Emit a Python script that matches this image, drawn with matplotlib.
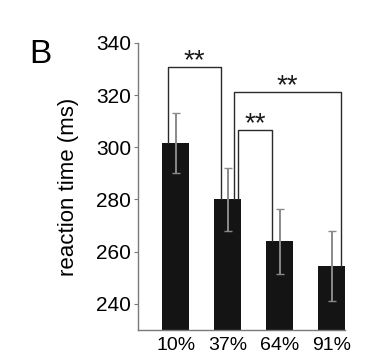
#!/usr/bin/env python3
import matplotlib
matplotlib.use("Agg")
import matplotlib.pyplot as plt

# --- data ---
categories = ["10%", "37%", "64%", "91%"]
rt_mean = [301.7, 280.0, 264.0, 254.6]
rt_err = [11.5, 12.0, 12.5, 13.5]

# significance brackets: (bar a, bar b, offset a, offset b, height, label)
brackets = [
    (0, 1, -0.15, -0.14, 330.7, "**"),
    (1, 3, 0.12, 0.17, 321.0, "**"),
    (1, 2, 0.19, -0.15, 306.5, "**"),
]

plt.rcParams["font.family"] = ["Liberation Sans", "DejaVu Sans"]

fig = plt.figure(figsize=(3.81, 3.63), dpi=100)
ax = fig.add_axes([0.362, 0.091, 0.544, 0.791])

x = list(range(1, len(categories) + 1))
ax.bar(x, rt_mean, width=0.52, color="#141414", zorder=2)
ax.errorbar(x, rt_mean, yerr=rt_err, fmt="none", ecolor="#8a8a8a",
            elinewidth=1.4, capsize=2.8, capthick=1.0, zorder=3)

for a, b, oa, ob, h, lab in brackets:
    xa, xb = x[a] + oa, x[b] + ob
    ax.plot([xa, xa, xb, xb], [rt_mean[a], h, h, rt_mean[b]],
            color="#2a2a2a", lw=1.0, zorder=4)
    ax.text((xa + xb) / 2, h - 0.3, lab, ha="center", va="baseline",
            fontsize=20, color="#1a1a1a")

ax.set_xlim(0.27, 4.26)
ax.set_ylim(230, 340)
ax.set_yticks([240, 260, 280, 300, 320, 340])
ax.set_xticks(x)
ax.set_xticklabels(categories)
ax.set_ylabel("reaction time (ms)", fontsize=16, labelpad=12)

for side in ["top", "right"]:
    ax.spines[side].set_visible(False)
for side in ["left", "bottom"]:
    ax.spines[side].set_color("#7a7a7a")
    ax.spines[side].set_linewidth(1.0)

ax.tick_params(axis="y", direction="out", length=3, width=0.8,
               color="#7a7a7a", labelsize=15, pad=2)
ax.tick_params(axis="x", length=0, labelsize=14, pad=5)

fig.text(29 / 381, 1 - 63 / 363, "B", fontsize=24, ha="left", va="baseline")

fig.savefig("out.png", dpi=100)
plt.close(fig)
